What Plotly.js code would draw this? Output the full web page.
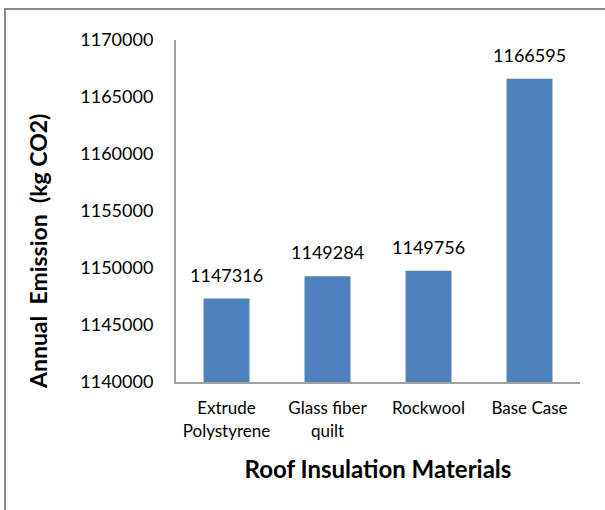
<!DOCTYPE html>
<html>
<head>
<meta charset="utf-8">
<script src="https://cdn.plot.ly/plotly-3.0.1.min.js"></script>
<style>html,body{margin:0;padding:0;background:#fff;}#chart{width:605px;height:510px;}</style>
</head>
<body>
<div id="chart"></div>
<script>
const categories = ["Extrude<br>Polystyrene", "Glass fiber<br>quilt", "Rockwool", "Base Case"];
const emissions = [1147316, 1149284, 1149756, 1166595];
const yTicks = [1140000, 1145000, 1150000, 1155000, 1160000, 1165000, 1170000];

const fontFam = "Lato, 'Open Sans', sans-serif";

const trace = {
  type: "bar",
  x: categories,
  y: emissions,
  marker: {color: "#4f81bd", line: {width: 0}},
  hoverinfo: "none"
};

const labelAnns = categories.map((c, i) => ({
  x: c, y: emissions[i], xref: "x", yref: "y",
  text: String(emissions[i]), showarrow: false,
  yanchor: "bottom", yshift: 11,
  font: {family: fontFam, size: 18, color: "#000"}
}));

const layout = {
  width: 605, height: 510,
  margin: {l: 176, r: 25, t: 40, b: 128},
  paper_bgcolor: "#fff", plot_bgcolor: "#fff",
  showlegend: false,
  bargap: 0.545,
  xaxis: {
    showline: true, linecolor: "#a0a0a0", linewidth: 2,
    ticks: "", showgrid: false,
    ticklabelstandoff: 10,
    tickfont: {family: fontFam, size: 17, color: "#000"},
    title: {text: "Roof Insulation Materials", standoff: 22,
            font: {family: fontFam, size: 24, color: "#000", weight: "bold"}}
  },
  yaxis: {
    range: [1140000, 1170000],
    tickvals: yTicks, ticktext: yTicks.map(String),
    showline: true, linecolor: "#a0a0a0", linewidth: 2,
    ticks: "", showgrid: false, zeroline: false,
    ticklabelstandoff: 17,
    tickfont: {family: fontFam, size: 18, color: "#000"}
  },
  annotations: labelAnns.concat([{
    xref: "paper", yref: "paper",
    x: (38 - 176) / 404, y: (382 - 252) / 342,
    text: "Annual\u00a0\u00a0Emission\u00a0\u00a0(kg CO2)",
    textangle: -90, showarrow: false,
    xanchor: "center", yanchor: "middle",
    font: {family: fontFam, size: 23, color: "#000", weight: "bold"}
  }]),
  shapes: [{
    type: "rect", xref: "paper", yref: "paper",
    x0: (5 - 176) / 404, x1: (640 - 176) / 404,
    y0: (382 - 560) / 342, y1: (382 - 9) / 342,
    line: {color: "#8c8c8c", width: 2}, fillcolor: "rgba(0,0,0,0)", layer: "below"
  }]
};

Plotly.newPlot("chart", [trace], layout, {displayModeBar: false, staticPlot: true});
</script>
</body>
</html>
